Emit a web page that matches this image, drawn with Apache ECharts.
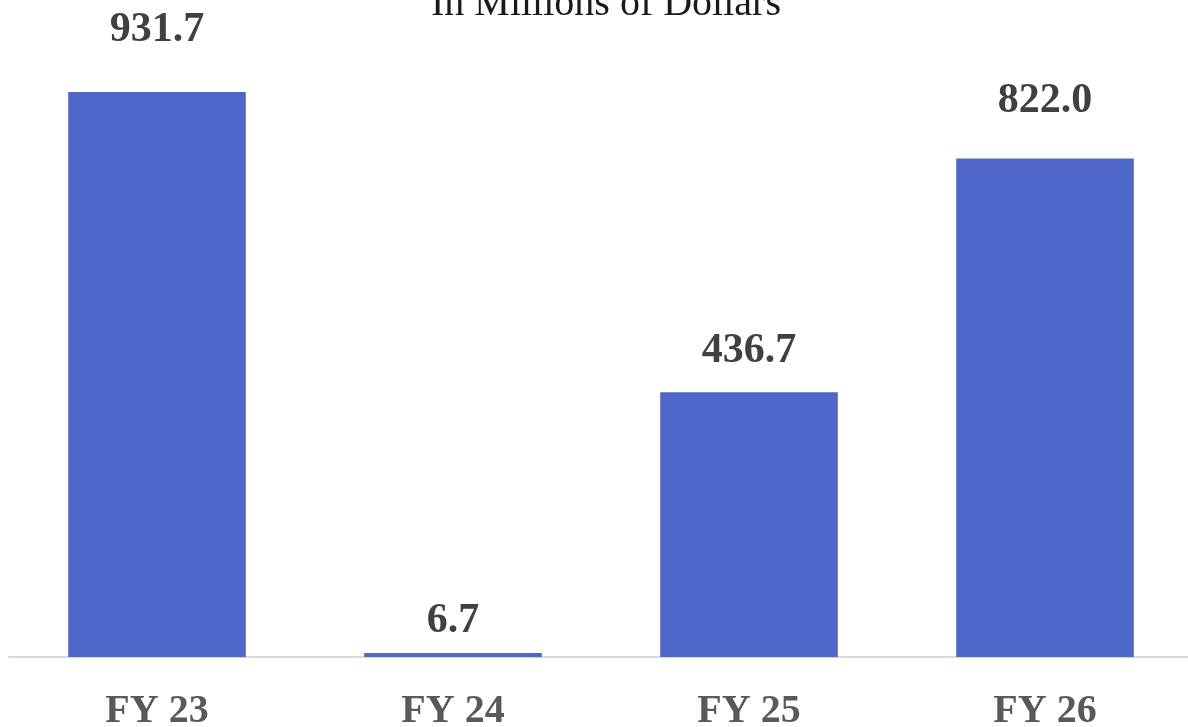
<!DOCTYPE html>
<html>
<head>
<meta charset="utf-8">
<script src="https://cdn.jsdelivr.net/npm/echarts@6/dist/echarts.min.js"></script>
<style>
  html, body { margin: 0; padding: 0; background: #fff; }
  #chart { width: 1188px; height: 727px; }
</style>
</head>
<body>
<div id="chart"></div>
<script>
// data
const categories = ['FY 23', 'FY 24', 'FY 25', 'FY 26']
const values = [931.7, 6.7, 436.7, 822.0]
const titleText = 'In Millions of Dollars'

// label gaps above each bar, in px (the source places them unevenly)
const labelDistances = [41, 11, 20, 36]

const chart = echarts.init(document.getElementById('chart'))

chart.setOption({
  animation: false,
  title: {
    text: titleText,
    left: 601,
    top: -21,
    textAlign: 'center',
    textStyle: {
      fontFamily: 'Liberation Serif',
      fontWeight: 'normal',
      fontSize: 40,
      color: '#1a1a1a'
    }
  },
  // outerBoundsMode none: let the grid sit past the edges like the source
  grid: { left: 9, width: 1184, top: 50.6, bottom: 70, containLabel: false, outerBoundsMode: 'none' },
  xAxis: {
    type: 'category',
    data: categories,
    axisLine: { lineStyle: { color: '#d9d9d9', width: 2 } },
    axisTick: { show: false },
    axisLabel: {
      margin: 35,
      fontFamily: 'Liberation Serif',
      fontWeight: 'bold',
      fontSize: 40,
      color: '#595959'
    }
  },
  yAxis: {
    type: 'value',
    min: 0,
    max: 1000,
    show: false,
    splitLine: { show: false }
  },
  series: [{
    type: 'bar',
    data: values.map((v, i) => ({ value: v, label: { distance: labelDistances[i] } })),
    barWidth: '60%',
    itemStyle: { color: '#4f67c8' },
    label: {
      show: true,
      position: 'top',
      formatter: p => p.value.toFixed(1),
      fontFamily: 'Liberation Serif',
      fontWeight: 'bold',
      fontSize: 42,
      color: '#404040'
    }
  }]
})
</script>
</body>
</html>
